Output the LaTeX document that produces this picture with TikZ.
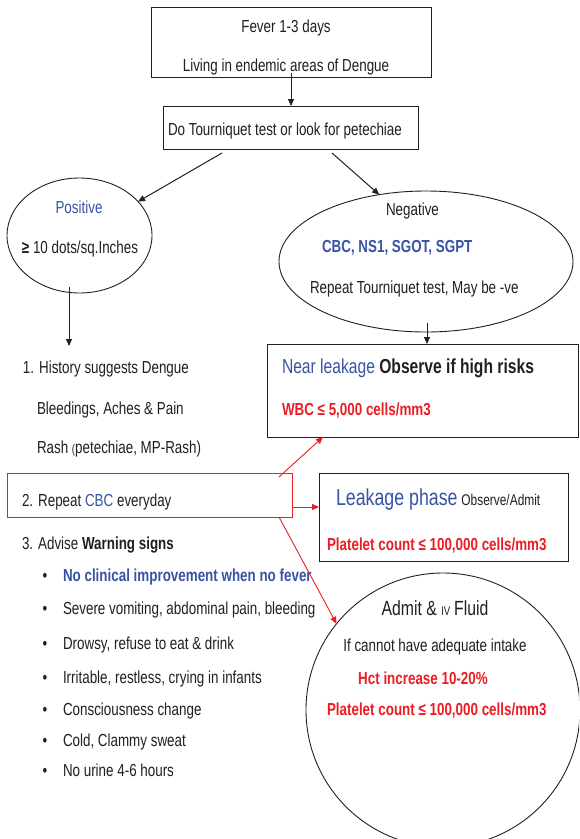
\documentclass[tikz,border=0pt]{standalone}
\usepackage{fontspec}
\setmainfont{Liberation Sans}[FakeStretch=0.77]
\usetikzlibrary{arrows.meta,shapes.geometric}
\definecolor{tblue}{RGB}{57,83,164}
\definecolor{tred}{RGB}{237,28,36}
\definecolor{tline}{RGB}{35,31,32}
\begin{document}
\begin{tikzpicture}[x=1pt,y=-1pt,
  every node/.style={inner sep=0pt, outer sep=0pt},
  lbl/.style={font=\fontsize{17.4}{20}\selectfont, text=tline},
  boxs/.style={draw=tline, line width=1pt, rectangle},
  ell/.style={draw=tline, line width=0.9pt, ellipse},
  arr/.style={draw=tline, line width=1pt, -{Triangle[length=7pt,width=6pt]}},
  rarr/.style={draw=tred, line width=0.9pt, -{Triangle[length=7pt,width=6pt]}}
]
\clip (0,0) rectangle (579,839);
\fill[white] (0,0) rectangle (579,839);

% shapes
\node[boxs, minimum width=280, minimum height=70] (top) at (291,42) {};
\node[boxs, minimum width=255, minimum height=43] (tq) at (290.5,127.5) {};
\node[ell, minimum width=145, minimum height=115] (pos) at (79.5,235.5) {};
\node[ell, minimum width=294, minimum height=141] (neg) at (426,261.5) {};
\node[boxs, minimum width=311, minimum height=93] (near) at (422.5,390.5) {};
\node[draw=tred, line width=1pt, minimum width=285, minimum height=44] (cbc) at (149.5,495) {};
\node[boxs, minimum width=249, minimum height=88] (leak) at (443.5,517) {};
\node[draw=tline, line width=0.9pt, circle, minimum size=274] (adm) at (443,710) {};

% texts
\node[lbl, anchor=base] (t1) at (286,32) {Fever 1-3 days};
\node[lbl, anchor=base] (t2) at (286,71) {Living in endemic areas of Dengue};
\node[lbl, anchor=base west] (t3) at (168,135) {Do Tourniquet test or look for petechiae};
\node[lbl, anchor=base, text=tblue] (p1) at (79,213) {Positive};
\node[lbl, anchor=base] (p2) at (80,253) {\textbf{≥} 10 dots/sq.Inches};
\node[lbl, anchor=base] (n1) at (412.5,215) {Negative};
\node[lbl, anchor=base west] (n2) at (322,252) {\textbf{\textcolor{tblue}{CBC, NS1, SGOT, SGPT}}};
\node[lbl, anchor=base west] (n3) at (310,293) {Repeat Tourniquet test, May be -ve};
\node[lbl, anchor=base west] (nl1) at (282,373) {{\fontsize{20.3}{23}\selectfont\textcolor{tblue}{Near leakage} \textbf{Observe if high risks}}};
\node[lbl, anchor=base west] (nl2) at (282,415) {\textbf{\textcolor{tred}{WBC ≤ 5,000 cells/mm3}}};

\node[lbl, anchor=base west] (h1) at (23,373) {1. History suggests Dengue};
\node[lbl, anchor=base west] (h2) at (37,414) {Bleedings, Aches \& Pain};
\node[lbl, anchor=base west] (h3) at (37,453) {Rash {\fontsize{12.5}{14}\selectfont(}petechiae, MP-Rash)};
\node[lbl, anchor=base west] (c1) at (22,506) {2. Repeat \textcolor{tblue}{CBC} everyday};
\node[lbl, anchor=base west] (lk1) at (336,505) {{\fontsize{23.1}{26}\selectfont\textcolor{tblue}{Leakage phase}} {\fontsize{15.5}{18}\selectfont Observe/Admit}};
\node[lbl, anchor=base west] (lk2) at (327,550) {\textbf{\textcolor{tred}{Platelet count ≤ 100,000 cells/mm3}}};
\node[lbl, anchor=base west] (w0) at (22,549) {3. Advise \textbf{Warning signs}};

\foreach \yy/\tt [count=\i] in {581/{\textbf{\textcolor{tblue}{No clinical improvement when no fever}}},
  614/{Severe vomiting, abdominal pain, bleeding},
  649/{Drowsy, refuse to eat \& drink},
  683/{Irritable, restless, crying in infants},
  715/{Consciousness change},
  746/{Cold, Clammy sweat},
  776/{No urine 4-6 hours}}{
  \node[lbl, anchor=base] (b\i) at (45,\yy) {•};
  \node[lbl, anchor=base west] (w\i) at (63,\yy) {\tt};
}

\node[lbl, anchor=base] (a1) at (435,615) {{\fontsize{20.5}{23}\selectfont Admit \& }{\fontsize{12.6}{14}\selectfont IV} {\fontsize{20.5}{23}\selectfont Fluid}};
\node[lbl, anchor=base] (a2) at (435,651) {If cannot have adequate intake};
\node[lbl, anchor=base] (a3) at (423,684) {\textbf{\textcolor{tred}{Hct increase 10-20\%}}};
\node[lbl, anchor=base west] (a4) at (327,715) {\textbf{\textcolor{tred}{Platelet count ≤ 100,000 cells/mm3}}};

% connectors
\draw[arr] ([yshift=4pt]top.south) -- (top.south |- tq.north);
\coordinate (s1) at (222,153);
\draw[arr] (s1) -- (pos);
\coordinate (s2) at (332,153);
\draw[arr] (s2) -- (neg.125);
\coordinate (he) at (69,346);
\draw[arr] (pos.south -| he) ++(0,-6) -- (he);
\coordinate (n0) at (427,323);
\draw[arr] (n0) -- (n0 |- near.north);
\coordinate (r1) at (279,477);
\draw[rarr] (r1) -- ([xshift=56pt]near.south west);
\coordinate (r2y) at (0,507);
\draw[rarr] (cbc.east |- r2y) -- (leak.west |- r2y);
\coordinate (r3) at (279,517);
\draw[rarr] (r3) -- (adm.141);
\end{tikzpicture}
\end{document}
